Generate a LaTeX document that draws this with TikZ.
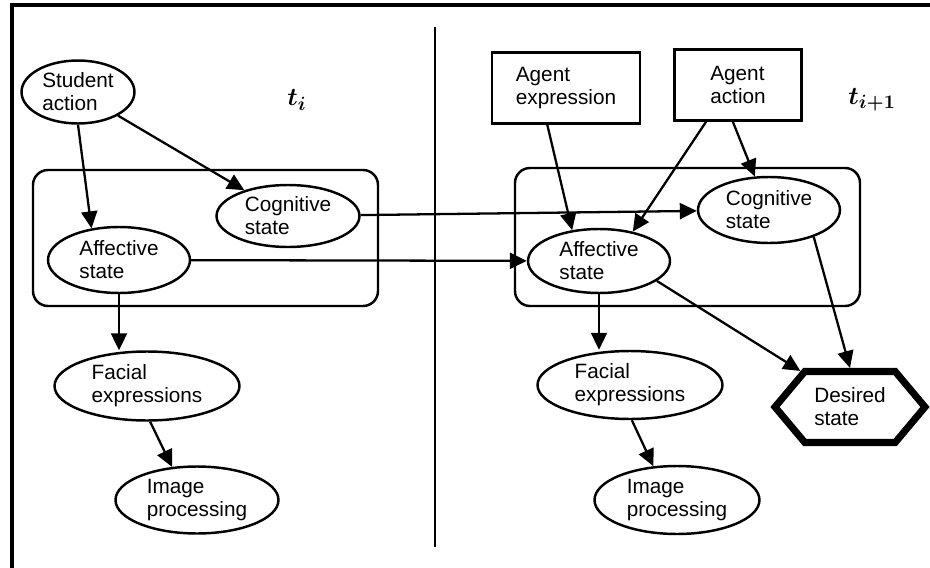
\documentclass[tikz,border=0pt]{standalone}
\usepackage{amsmath}
\usepackage{fontspec}
\setmainfont{Liberation Sans}
\usetikzlibrary{shapes.geometric, shapes.symbols, arrows.meta}

\tikzset{
  estado/.style={ellipse, draw, line width=1.4pt, fill=white, inner sep=0pt, align=left,
    font=\fontsize{11.8}{13}\selectfont},
  caja/.style={rectangle, draw, line width=1.4pt, fill=white, inner sep=0pt, align=left,
    font=\fontsize{11.8}{13}\selectfont},
  deseado/.style={signal, signal to=west and east, signal pointer angle=100, draw,
    line width=4pt, fill=white, inner sep=0pt, align=left, font=\fontsize{11.8}{13}\selectfont},
  flecha/.style={-{Triangle[length=0.34cm,width=0.32cm]}, line width=1.3pt},
}

\begin{document}
\begin{tikzpicture}[x=0.02cm, y=-0.02cm]
  \useasboundingbox (0,0) rectangle (930,568);

  % Marco y division entre instantes
  \draw[line width=1.8pt] (12,568) -- (12,5) -- (930,5);
  \draw[line width=1.6pt] (435,27) -- (435,547);

  % Grupos de estados
  \draw[line width=1.4pt, rounded corners=0.3cm] (33,170) rectangle (378,306);
  \draw[line width=1.4pt, rounded corners=0.3cm] (515,168) rectangle (860,306);

  % Instante t_i
  \node[estado, minimum width=2.26cm, minimum height=1.26cm] (student) at (78,92) {Student\\action};
  \node[estado, minimum width=2.86cm, minimum height=1.24cm] (cogL) at (288,216) {Cognitive\\state};
  \node[estado, minimum width=2.84cm, minimum height=1.32cm] (affL) at (119,260) {Affective\\state};
  \node[estado, minimum width=3.7cm, minimum height=1.38cm] (facL) at (147,386) {Facial\\expressions};
  \node[estado, minimum width=3.26cm, minimum height=1.34cm] (imgL) at (197,500) {Image\\processing};
  \node[font=\fontsize{15}{17}\selectfont] (tL) at (297,100) {$\boldsymbol{t_i}$};

  % Instante t_{i+1}
  \node[caja, minimum width=2.96cm, minimum height=1.42cm] (agExp) at (566,88) {Agent\\expression};
  \node[caja, minimum width=2.54cm, minimum height=1.42cm] (agAct) at (738,85) {Agent\\action};
  \node[estado, minimum width=2.84cm, minimum height=1.32cm] (cogR) at (769,210) {Cognitive\\state};
  \node[estado, minimum width=2.84cm, minimum height=1.28cm] (affR) at (599,261) {Affective\\state};
  \node[estado, minimum width=3.7cm, minimum height=1.36cm] (facR) at (630,385) {Facial\\expressions};
  \node[estado, minimum width=3.3cm, minimum height=1.36cm] (imgR) at (677,500) {Image\\processing};
  \node[deseado, minimum width=3.0cm, minimum height=1.42cm] (desired) at (850,407) {Desired\\state};
  \node[font=\fontsize{15}{17}\selectfont] (tR) at (872,100) {$\boldsymbol{t_{i+1}}$};

  % Dependencias
  \draw[flecha] (student.south) -- (affL.131);
  \draw[flecha] (student) -- (cogL);
  \draw[flecha] (affL.south) -- (affL.south |- facL.north);
  \draw[flecha] (facL.-85) -- (imgL.127);

  \draw[flecha] (cogL) -- (cogR);
  \draw[flecha] (affL) -- (affR);

  \draw[flecha] (agExp.-117) -- (affR.131);
  \draw[flecha] (agAct.-131) -- (affR.41);
  \draw[flecha] (agAct.-98) -- (cogR.113);
  \draw[flecha] (cogR.-31) -- (desired.north);
  \draw[flecha] (affR.-19) -- (desired.144);
  \draw[flecha] (affR.south) -- (affR.south |- facR.north);
  \draw[flecha] (facR.-87) -- (imgR.125);
\end{tikzpicture}
\end{document}
